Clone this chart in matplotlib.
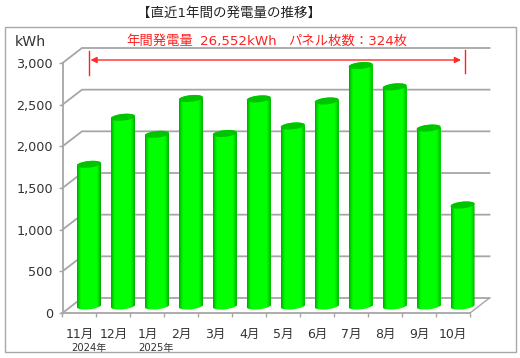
import numpy as np
import matplotlib
matplotlib.use("Agg")
import matplotlib.pyplot as plt
from matplotlib.patches import Rectangle, Polygon
from matplotlib.colors import LinearSegmentedColormap
from matplotlib.lines import Line2D

months = ["11月", "12月", "1月", "2月", "3月", "4月", "5月", "6月", "7月", "8月", "9月", "10月"]
values = [1700, 2265, 2060, 2490, 2070, 2485, 2160, 2460, 2885, 2630, 2135, 1212]
yticks = [0, 500, 1000, 1500, 2000, 2500, 3000]
title = "【直近1年間の発電量の推移】"
note_parts = [("年間発電量", 126.5), ("26,552kWh", 200), ("パネル枚数：324枚", 288.5)]
unit = "kWh"
years = [("2024年", 89), ("2025年", 156)]

W, H = 520, 358
FONT = ["DejaVu Sans", "Noto Sans CJK JP"]
GRAY = "#a6a6a6"
TEXT = "#333333"

fig = plt.figure(figsize=(W / 100, H / 100), dpi=100, facecolor="white")
L, R, T, B = 62.5, 470.0, 63.0, 313.0
ax = fig.add_axes([L / W, 1 - B / H, (R - L) / W, (B - T) / H])
ax.set_xlim(-0.5, 11.5)
ax.set_ylim(0, 3000)
ax.patch.set_alpha(0)

def fx(px): return px / W
def fy(py): return 1 - py / H

# outer frame
fig.add_artist(Rectangle((fx(5), fy(352)), fx(511), 325 / H, transform=fig.transFigure,
                         fc="none", ec="#a8a8a8", lw=1.0))

# pseudo-3D box
dx, dy = 19.5 / 34, 180
x0, x1 = -0.5, 11.5
for v in yticks:
    ax.plot([x0, x0 + dx, x1 + dx], [v, v + dy, v + dy], color=GRAY, lw=1.3,
            clip_on=False, zorder=1, solid_joinstyle="miter")
ax.plot([x1, x1 + dx], [0, dy], color=GRAY, lw=1.0, clip_on=False, zorder=1)

for s in ["top", "right"]:
    ax.spines[s].set_visible(False)
for s in ["left", "bottom"]:
    ax.spines[s].set_color(GRAY)
    ax.spines[s].set_linewidth(1.3)

ax.set_yticks(yticks, [f"{v:,}" for v in yticks], fontsize=9.2, color=TEXT, family=FONT)
ax.tick_params(axis="y", length=3, width=1, color=GRAY, pad=4)
ax.set_xticks(np.arange(-0.5, 12, 1))
ax.set_xticklabels([])
ax.tick_params(axis="x", which="major", length=3, width=1, color=GRAY)
ax.set_xticks(np.arange(12), months, minor=True, fontsize=9, color=TEXT, family=FONT)
ax.tick_params(axis="x", which="minor", length=0, pad=11)

# cylinders
off_x, off_y = 9.5 / 34, 84
w = 24 / 34
b_e, tilt = 40, 14
cmap = LinearSegmentedColormap.from_list("cyl", [
    (0.0, "#00a800"), (0.05, "#00c800"), (0.12, "#00f000"), (0.18, "#00ff00"),
    (0.82, "#00ff00"), (0.92, "#00dc00"), (1.0, "#00a000")])
grad = np.linspace(0, 1, 64).reshape(1, -1)
t = np.linspace(0, 2 * np.pi, 61)

ax.bar(np.arange(12) + off_x, values, bottom=off_y, width=w, color="#00ff00",
       lw=0, clip_on=False, zorder=2)
for i, v in enumerate(values):
    cx = i + off_x
    top = v + off_y
    tb = np.linspace(np.pi, 2 * np.pi, 30)
    bx = cx + w / 2 * np.cos(tb)
    by = off_y + b_e * np.sin(tb) + tilt * np.cos(tb)
    tt = tb[::-1] - np.pi
    tx = cx + w / 2 * np.cos(tt)
    ty = top + tilt * np.cos(tt) + b_e * np.sin(tt)
    verts = np.r_[np.c_[bx, by], np.c_[tx[::-1], ty[::-1]]]
    body = Polygon(verts, closed=True, transform=ax.transData, fc="none", ec="none")
    im = ax.imshow(grad, cmap=cmap, aspect="auto", vmin=0, vmax=1, zorder=3,
                   extent=(cx - w / 2, cx + w / 2, off_y - 80, top + 80))
    im.set_clip_path(body)
    im.set_clip_box(fig.bbox)
    ex = cx + w / 2 * np.cos(t)
    ey = top + b_e * np.sin(t) + tilt * np.cos(t)
    ax.fill(ex, ey, fc="#00c400", ec="none", clip_on=False, zorder=4)
ax.set_xlim(-0.5, 11.5)
ax.set_ylim(0, 3000)

# span arrow and annotation
RED = "#ff2020"
fig.add_artist(Line2D([fx(88.5)] * 2, [fy(51), fy(75)], color=RED, lw=1))
fig.add_artist(Line2D([fx(464.5)] * 2, [fy(50), fy(73)], color=RED, lw=1))
ax.annotate("", xy=(fx(90.5), fy(60)), xytext=(fx(461), fy(60)),
            xycoords="figure fraction", textcoords="figure fraction",
            arrowprops=dict(arrowstyle="<|-|>", color="#ff2a2a", lw=1.0, mutation_scale=9,
                            shrinkA=0, shrinkB=0))

fig.text(fx(229), fy(13), title, ha="center", va="center", fontsize=9.7, color="#222222", family=FONT)
for lab, px in note_parts:
    fig.text(fx(px), fy(41), lab, ha="left", va="center", fontsize=9.6, color=RED, family=FONT)
fig.text(fx(15), fy(42), unit, ha="left", va="center", fontsize=10.2, color=TEXT, family=FONT)
for lab, px in years:
    fig.text(fx(px), fy(348), lab, ha="center", va="center", fontsize=7.2, color=TEXT, family=FONT)

fig.savefig("out.png", dpi=100)
